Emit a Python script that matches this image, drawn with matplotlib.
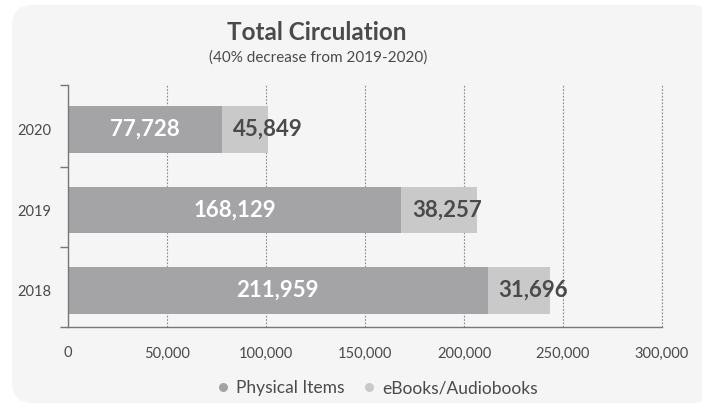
import matplotlib
matplotlib.use("Agg")
import matplotlib.pyplot as plt
from matplotlib.patches import FancyBboxPatch
from matplotlib.ticker import FuncFormatter, MultipleLocator, FixedLocator
from matplotlib.lines import Line2D

years = ["2018", "2019", "2020"]
physical = [211959, 168129, 77728]
# bar lengths as drawn in the reference (2020 segment is drawn shorter than its label)
ebooks_drawn = [31696, 38257, 23300]
ebook_labels = [31696, 38257, 45849]
series_names = ["Physical Items", "eBooks/Audiobooks"]
title = "Total Circulation"
subtitle = "(40% decrease from 2019-2020)"
x_max = 300000

C_PHYS = "#a4a4a6"
C_EBOOK = "#c9c9c9"
C_TEXT = "#4a4a4a"
FONT = "Lato"

fig = plt.figure(figsize=(7.02, 4.09), dpi=100)
fig.patch.set_facecolor("white")
card = FancyBboxPatch((12/702, 6/409), 700/702, 398/409,
                      boxstyle="round,pad=0,rounding_size=0.03",
                      transform=fig.transFigure, facecolor="#f5f5f5",
                      edgecolor="none", zorder=-10, mutation_aspect=702/409)
fig.patches.append(card)

ax = fig.add_axes([68/702, 1-327/409, (662-68)/702, (327-85)/409])
ax.set_facecolor("none")
ax.set_zorder(1)

y = list(range(len(years)))
h = 0.58
ax.barh(y, physical, height=h, color=C_PHYS, zorder=2)
ax.barh(y, ebooks_drawn, left=physical, height=h, color=C_EBOOK, zorder=2)

for yi, p, e in zip(y, physical, ebook_labels):
    ax.text(p/2, yi, f"{p:,}", ha="center", va="center", color="white",
            fontsize=16, fontweight="bold", family=FONT, zorder=3)
    ax.text(p + 5500, yi, f"{e:,}", ha="left", va="center", color=C_TEXT,
            fontsize=16, fontweight="bold", family=FONT, zorder=3)

ax.set_xlim(0, x_max)
ax.set_ylim(-0.45, 2.55)
ax.xaxis.set_major_locator(MultipleLocator(50000))
ax.xaxis.set_major_formatter(FuncFormatter(lambda v, p: f"{int(v):,}"))
ax.set_yticks(y)
ax.set_yticklabels(years)
ax.yaxis.set_minor_locator(FixedLocator([-0.45, 0.54, 1.53, 2.55]))
ax.tick_params(axis="y", which="major", length=0, pad=12, labelsize=10.5,
               labelcolor=C_TEXT)
ax.tick_params(axis="y", which="minor", length=6, color="#777777", width=1)
ax.tick_params(axis="x", length=0, pad=14, labelsize=10.5, labelcolor=C_TEXT)
for lab in ax.get_xticklabels() + ax.get_yticklabels():
    lab.set_family(FONT)

grid_style = dict(linestyle=(0, (1.5, 1.5)), color="#888888", linewidth=0.8)
ax.grid(axis="x", zorder=1, **grid_style)
ax.axvline(x_max, clip_on=False, zorder=1, **grid_style)
ax.set_axisbelow(True)
for s in ["top", "right"]:
    ax.spines[s].set_visible(False)
ax.spines["left"].set_color("#777777")
ax.spines["bottom"].set_color("#777777")
ax.spines["left"].set_linewidth(1)
ax.spines["bottom"].set_linewidth(1)

fig.text(317/702, 1-32/409, title, ha="center", va="center", fontsize=17.5,
         fontweight="bold", color=C_TEXT, family=FONT)
fig.text(318/702, 1-58/409, subtitle, ha="center", va="center", fontsize=11,
         color=C_TEXT, family=FONT)

handles = [Line2D([], [], marker="o", linestyle="none", markersize=6.5,
                  markerfacecolor=c, markeredgecolor="none")
           for c in (C_PHYS, C_EBOOK)]
leg = fig.legend(handles, series_names, loc="center", ncol=2,
                 bbox_to_anchor=(378/702, 1-388/409), frameon=False,
                 handlelength=0.6, handletextpad=0.45, columnspacing=1.1,
                 prop={"family": FONT, "size": 12.5})
for t in leg.get_texts():
    t.set_color(C_TEXT)

fig.savefig("out.png", dpi=100, facecolor=fig.get_facecolor())
